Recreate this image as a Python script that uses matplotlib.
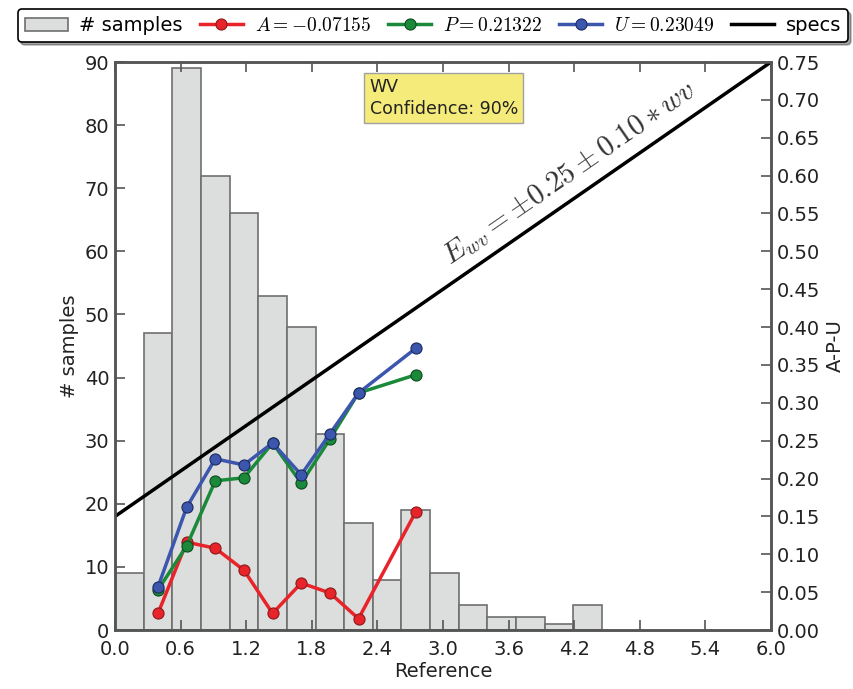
import numpy as np
import matplotlib
matplotlib.use('Agg')
import matplotlib.pyplot as plt

plt.rcParams['mathtext.fontset'] = 'cm'
plt.rcParams['font.family'] = 'DejaVu Sans'

# histogram of reference values (bin width ~0.262)
bin_width = 0.262
counts = [9, 47, 89, 72, 66, 53, 48, 31, 17, 8, 19, 9, 4, 2, 2, 1, 4]

# A-P-U statistics at bin centres (bins 1..8 and 10)
stat_bins = [1, 2, 3, 4, 5, 6, 7, 8, 10]
A_vals = [0.022, 0.116, 0.108, 0.079, 0.022, 0.062, 0.049, 0.015, 0.156]
P_vals = [0.053, 0.111, 0.197, 0.201, 0.247, 0.194, 0.252, 0.313, 0.337]
U_vals = [0.057, 0.162, 0.226, 0.218, 0.247, 0.205, 0.259, 0.313, 0.372]
A_label = r'$A=-0.07155$'
P_label = r'$P=0.21322$'
U_label = r'$U=0.23049$'

# spec line E = 0.15 + 0.10 * wv
spec_x = [0.0, 6.0]
spec_y = [0.15 + 0.10 * v for v in spec_x]

edges = np.arange(len(counts)) * bin_width
centers = (np.array(stat_bins) + 0.5) * bin_width

fig = plt.figure(figsize=(8.54, 6.89), dpi=100)
ax = fig.add_axes([0.1347, 0.0856, 0.7681, 0.8244])
ax2 = ax.twinx()

spine_c = '#555555'
for a in (ax, ax2):
    for s in a.spines.values():
        s.set_color(spine_c)
        s.set_linewidth(1.8)

bars = ax.bar(edges, counts, width=bin_width, align='edge', color='#dcdddd',
              edgecolor='#6f6f6f', linewidth=1.2, label='# samples')
ax.set_xlim(0, 6)
ax.set_ylim(0, 90)
ax.set_xticks(np.arange(0, 6.01, 0.6))
ax.set_xticklabels(['%.1f' % v for v in np.arange(0, 6.01, 0.6)])
ax.set_yticks(range(0, 91, 10))
ax.tick_params(direction='in', length=7, width=1.2, color=spine_c,
               labelsize=14, labelcolor='#222222', top=True, pad=4)
ax.tick_params(axis='x', pad=7)
ax.set_ylabel('# samples', fontsize=14, color='#222222')
ax.set_xlabel('Reference', fontsize=14, color='#222222', labelpad=2)

lA, = ax2.plot(centers, A_vals, '-o', color='#e8242a', lw=2.5, ms=8,
               mec='#8a1a1a', mew=0.8, label=A_label)
lP, = ax2.plot(centers, P_vals, '-o', color='#1a8a3a', lw=2.5, ms=8,
               mec='#0e4a20', mew=0.8, label=P_label)
lU, = ax2.plot(centers, U_vals, '-o', color='#3c56ad', lw=2.5, ms=8,
               mec='#1c2a60', mew=0.8, label=U_label)
lS, = ax2.plot(spec_x, spec_y, '-', color='black', lw=2.5, label='specs')
ax2.set_ylim(0, 0.75)
ax2.set_yticks(np.arange(0, 0.751, 0.05))
ax2.set_yticklabels(['%.2f' % v for v in np.arange(0, 0.751, 0.05)])
ax2.tick_params(direction='in', length=7, width=1.2, color=spine_c,
                labelsize=14, labelcolor='#222222', pad=4)
ax2.set_ylabel('A-P-U', fontsize=14, color='#222222')

ax2.text(4.16, 0.603, r'$E_{wv}=\pm0.25\pm0.10*wv$', fontsize=21,
         color='#333333', ha='center', va='center', rotation_mode='anchor',
         rotation=np.degrees(np.arctan(0.10)), transform_rotates_text=True)

ax.text(0.388, 0.972, 'WV\nConfidence: 90%', transform=ax.transAxes,
        fontsize=12.5, color='#222222', va='top', ha='left', linespacing=1.3,
        bbox=dict(boxstyle='square,pad=0.3', facecolor='#f5eb7a',
                  edgecolor='#a0a0a0', lw=1))

leg = fig.legend([bars, lA, lP, lU, lS], ['# samples', A_label, P_label, U_label, 'specs'],
                 loc='lower left', bbox_to_anchor=(0.021, 0.939, 0.972, 0.054),
                 mode='expand', ncol=5, fontsize=14, frameon=True, fancybox=True,
                 shadow=True, borderaxespad=0, handlelength=2.2, columnspacing=1.0,
                 handletextpad=0.6, borderpad=0.35)
leg.get_frame().set_edgecolor('black')
leg.get_frame().set_linewidth(1.2)

fig.savefig('out.png', dpi=100)
